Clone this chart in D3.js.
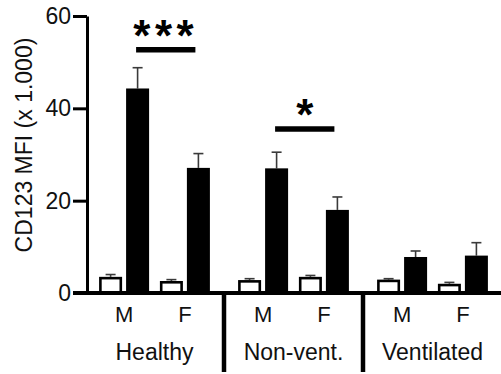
<!DOCTYPE html>
<html>
<head>
<meta charset="utf-8">
<script src="https://cdn.jsdelivr.net/npm/d3@7"></script>
<style>
  html, body { margin: 0; padding: 0; background: #fff; }
  svg { display: block; font-family: "Liberation Sans", Arial, sans-serif; }
</style>
</head>
<body>
<svg id="chart" width="501" height="374"></svg>
<script>
// Patient groups and sexes along the x axis
const groups = ["Healthy", "Non-vent.", "Ventilated"];
const sexes = ["M", "F"];
const series = ["open", "filled"];

// Means and upper error (SEM), ordered Healthy M, Healthy F, Non-vent. M, Non-vent. F, Ventilated M, Ventilated F
const openMean   = [3.5, 2.6, 2.8, 3.5, 2.9, 2.0];
const openErr    = [0.5, 0.3, 0.3, 0.3, 0.2, 0.3];
const filledMean = [44.3, 27.1, 27.0, 18.0, 7.8, 8.1];
const filledErr  = [4.5, 3.1, 3.5, 2.8, 1.3, 2.8];

const yTicks = [0, 20, 40, 60];
const yLabel = "CD123 MFI (x 1.000)";

// Significance brackets between M and F filled bars
const sigGroups = ["Healthy", "Non-vent."];
const sigLevels = [52.7, 35.5];
const sigLabels = ["***", "*"];

const svg = d3.select("#chart");
const font = '"Liberation Sans", Arial, sans-serif';

const y = d3.scaleLinear().domain([0, 60]).range([293, 16]);
const xGroup = d3.scaleBand().domain(groups).range([85, 502]);
const xSex = d3.scalePoint().domain(sexes).range([0, xGroup.bandwidth()]).padding(0.643);
const xSeries = d3.scaleBand().domain(series).range([-25, 25]).paddingInner(0.148);

const bars = [];
groups.forEach((g, gi) => {
  sexes.forEach((s, si) => {
    const i = gi * 2 + si;
    bars.push({ g, s, k: "open", v: openMean[i], e: openErr[i] });
    bars.push({ g, s, k: "filled", v: filledMean[i], e: filledErr[i] });
  });
});
const barX = d => xGroup(d.g) + xSex(d.s) + xSeries(d.k);
const pairCenter = (g, s) => xGroup(g) + xSex(s);

// Error bars (upper only), drawn first so filled bars hide the lower part
const err = svg.append("g").attr("stroke", "#3a3a3a").attr("stroke-width", 1.6);
bars.forEach(d => {
  const cx = barX(d) + xSeries.bandwidth() / 2;
  err.append("line").attr("x1", cx).attr("x2", cx).attr("y1", y(d.v)).attr("y2", y(d.v + d.e));
  err.append("line").attr("x1", cx - 5).attr("x2", cx + 5).attr("y1", y(d.v + d.e)).attr("y2", y(d.v + d.e));
});

// Bars
const sw = 2.6;
svg.append("g").selectAll("rect").data(bars).join("rect")
  .attr("x", d => d.k === "open" ? barX(d) + sw / 2 : barX(d))
  .attr("width", d => d.k === "open" ? xSeries.bandwidth() - sw : xSeries.bandwidth())
  .attr("y", d => d.k === "open" ? y(d.v) + sw / 2 : y(d.v))
  .attr("height", d => y(0) - y(d.v) - (d.k === "open" ? sw / 2 : 0))
  .attr("fill", d => d.k === "open" ? "#fff" : "#000")
  .attr("stroke", d => d.k === "open" ? "#000" : "none")
  .attr("stroke-width", sw);

// Y axis
const yAxis = svg.append("g").attr("transform", "translate(87,0)")
  .call(d3.axisLeft(y).tickValues(yTicks).tickSize(14).tickSizeOuter(0).tickPadding(2));
yAxis.select(".domain").attr("stroke", "#000").attr("stroke-width", 3);
yAxis.selectAll(".tick line").attr("stroke", "#000").attr("stroke-width", 3);
yAxis.selectAll(".tick text").attr("font-size", 23).attr("font-family", font).attr("fill", "#111");

// X baseline and group dividers
svg.append("line").attr("x1", 73).attr("x2", 501).attr("y1", y(0)).attr("y2", y(0))
  .attr("stroke", "#000").attr("stroke-width", 4);
groups.slice(1).forEach(g => {
  svg.append("line").attr("x1", xGroup(g)).attr("x2", xGroup(g))
    .attr("y1", y(0)).attr("y2", 372).attr("stroke", "#000").attr("stroke-width", 4.5);
});

// Sex labels and group labels
groups.forEach(g => {
  sexes.forEach(s => {
    svg.append("text").attr("x", pairCenter(g, s)).attr("y", 322)
      .attr("text-anchor", "middle").attr("font-size", 22).attr("fill", "#111").text(s);
  });
  svg.append("text").attr("x", xGroup(g) + xGroup.bandwidth() / 2).attr("y", 360)
    .attr("text-anchor", "middle").attr("font-size", 23).attr("fill", "#111").text(g);
});

// Y axis title
svg.append("text").attr("transform", "translate(32,145) rotate(-90)")
  .attr("text-anchor", "middle").attr("font-size", 23).attr("fill", "#111").text(yLabel);

// Significance brackets
sigGroups.forEach((g, i) => {
  const x1 = pairCenter(g, "M") + xSeries("filled") + xSeries.bandwidth() / 2 - 1.5;
  const x2 = pairCenter(g, "F") + xSeries("filled") + xSeries.bandwidth() / 2 - 3;
  svg.append("line").attr("x1", x1).attr("x2", x2).attr("y1", y(sigLevels[i])).attr("y2", y(sigLevels[i]))
    .attr("stroke", "#000").attr("stroke-width", 5.5);
  svg.append("text").attr("x", (x1 + x2) / 2).attr("y", y(sigLevels[i]) + 1)
    .attr("text-anchor", "middle").attr("font-size", 44).attr("font-weight", "bold")
    .attr("letter-spacing", sigLabels[i].length > 1 ? 4.5 : 0)
    .attr("fill", "#000").text(sigLabels[i]);
});
</script>
</body>
</html>
